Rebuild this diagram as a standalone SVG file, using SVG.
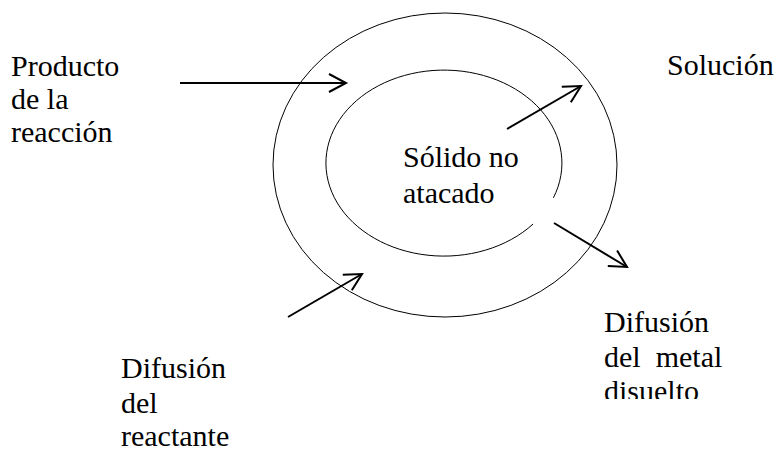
<svg xmlns="http://www.w3.org/2000/svg" width="780" height="452" viewBox="0 0 780 452">
<style>
text{font-family:"Liberation Serif","Times New Roman",serif;font-size:30px;fill:#000}
.ring{fill:none;stroke:#000;stroke-width:1}
.arr{fill:none;stroke:#000;stroke-width:2;marker-end:url(#v)}
</style>
<defs>
<marker id="v" markerUnits="userSpaceOnUse" markerWidth="30" markerHeight="30" refX="0" refY="0" viewBox="-20 -15 30 30" orient="auto" overflow="visible">
<path d="M -17 -9 L 0 0 L -17 9" fill="none" stroke="#000" stroke-width="2"/>
</marker>
<clipPath id="c1"><rect x="0" y="40" width="200" height="104"/></clipPath>
<clipPath id="c2"><rect x="580" y="300" width="200" height="99"/></clipPath>
</defs>
<rect width="780" height="452" fill="#fff"/>
<g id="solucion-ring"><ellipse class="ring" cx="445" cy="165" rx="172" ry="152"/></g>
<g id="solido-core"><path class="ring" d="M 533.1 224 A 118 93 0 1 1 553.4 197.8"/>
<text x="403" y="167">Sólido no</text>
<text x="403" y="203">atacado</text></g>
<g id="producto"><g clip-path="url(#c1)">
<text x="11" y="76">Producto</text>
<text x="11" y="109">de la</text>
<text x="11" y="142">reacción</text></g></g>
<g id="solucion"><text x="667" y="75">Solución</text></g>
<g id="difusion-metal"><g clip-path="url(#c2)">
<text x="604" y="332">Difusión</text>
<text x="604" y="367" xml:space="preserve">del  metal</text>
<text x="604" y="401">disuelto</text></g></g>
<g id="difusion-reactante">
<text x="121" y="378">Difusión</text>
<text x="121" y="413">del</text>
<text x="121" y="446">reactante</text></g>
<g id="connectors">
<line class="arr" x1="180" y1="83" x2="346" y2="83"/>
<line class="arr" x1="507" y1="129" x2="581" y2="86"/>
<line class="arr" x1="554" y1="223" x2="627" y2="267"/>
<line class="arr" x1="288" y1="317" x2="362" y2="274"/>
</g>
</svg>
